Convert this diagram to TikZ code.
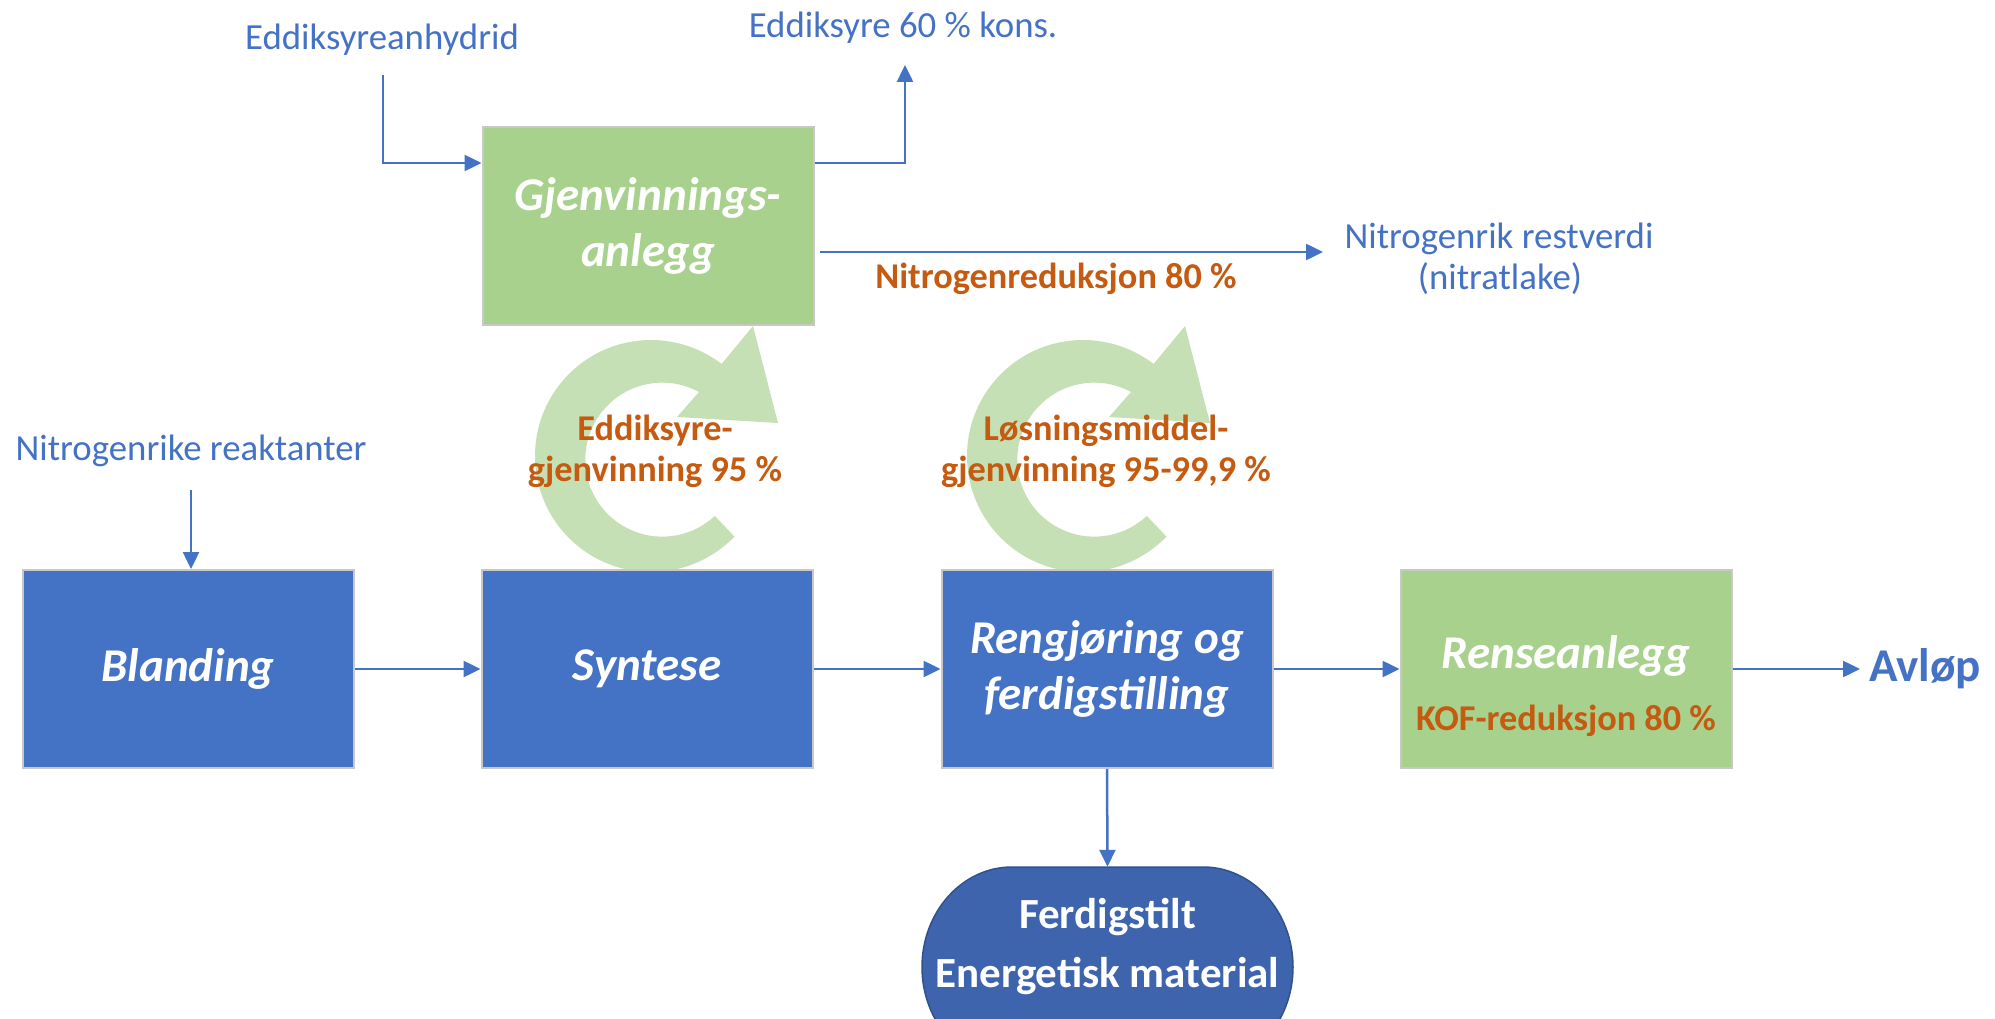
\documentclass[tikz,border=0pt]{standalone}
\usepackage{fontspec}
\setmainfont{Carlito}
\usetikzlibrary{arrows.meta}
\definecolor{boxblue}{HTML}{4472C4}
\definecolor{proddark}{HTML}{3D64AD}
\definecolor{prodline}{HTML}{2F528F}
\definecolor{boxgreen}{HTML}{A9D18E}
\definecolor{ringgreen}{HTML}{C5E0B4}
\definecolor{pctorange}{HTML}{C55A11}
\definecolor{labelblue}{HTML}{4472C4}
\definecolor{boxline}{HTML}{C8C8C8}

% circular recycling arrow, shifted horizontally by #1
\newcommand\recyclearrow[1]{%
  \fill[ringgreen, shift={(#1,0)}]
    (651,456) ++(44:116) arc[start angle=44, end angle=307.5, radius=116]
    -- (753,326) -- (778,423) -- (677,417) -- (699,392)
    arc[start angle=298.5, end angle=47, radius=77] -- cycle;}

\begin{document}
\begin{tikzpicture}[x=1pt, y=-1pt,
  box/.style={minimum width=331pt, minimum height=198pt, draw=boxline,
    line width=2pt, inner sep=0pt, align=center, text=white,
    font=\fontsize{47}{56}\selectfont\bfseries\itshape},
  bluebox/.style={box, fill=boxblue},
  greenbox/.style={box, fill=boxgreen},
  flow/.style={draw=labelblue, line width=2.5pt,
    -{Triangle[length=17pt, width=16pt]}},
  lbl/.style={text=labelblue, font=\fontsize{36.8}{44}\selectfont,
    anchor=base, inner sep=0pt},
  pct/.style={text=pctorange, font=\fontsize{36.3}{42}\selectfont\bfseries,
    anchor=base, inner sep=0pt},
  prodtxt/.style={text=white, font=\fontsize{43}{54}\selectfont\bfseries,
    anchor=base, inner sep=0pt}]

\useasboundingbox (0,0) rectangle (1995,1019);
\clip (0,0) rectangle (1995,1019);
\fill[white] (0,0) rectangle (1995,1019);

% recovery loops
\recyclearrow{0}
\recyclearrow{432}

% process boxes
\node[greenbox] (gjen)  at (648,226)  {Gjenvinnings-\\anlegg};
\node[bluebox]  (bland) at (188,669)  {Blanding};
\node[bluebox]  (synt)  at (647,669)  {Syntese};
\node[bluebox]  (reng)  at (1107,669) {Rengjøring og\\ferdigstilling};
\node[greenbox] (rens)  at (1566,669) {};
\node[text=white, font=\fontsize{47}{56}\selectfont\bfseries\itshape,
  anchor=base, inner sep=0pt] (renstxt) at (1566,668) {Renseanlegg};
\node[pct] (kof) at (1566,730) {KOF-reduksjon 80 \%};

% finished product (terminator shape)
\path[fill=proddark, draw=prodline, line width=1.5pt]
  (1012,867) -- (1203,867)
  arc[start angle=270, end angle=450, x radius=90, y radius=100]
  -- (1012,1067)
  arc[start angle=90, end angle=270, x radius=90, y radius=100] -- cycle;
\node[minimum width=371pt, minimum height=200pt, inner sep=0pt] (prod) at (1107.5,967) {};
\node[prodtxt] (prod1) at (1107.5,928) {Ferdigstilt};
\node[prodtxt] (prod2) at (1107.5,987) {Energetisk material};

% free labels
\node[lbl] (anhyd) at (382,50) {Eddiksyreanhydrid};
\node[lbl] (acid)  at (903,38) {Eddiksyre 60 \% kons.};
\node[lbl] (nres1) at (1499,248) {Nitrogenrik restverdi};
\node[lbl] (nres2) at (1500,290) {(nitratlake)};
\node[lbl] (react) at (191,460) {Nitrogenrike reaktanter};
\node[text=labelblue, font=\fontsize{47}{56}\selectfont\bfseries,
  anchor=base west, inner sep=0pt] (avlop) at (1869,681) {Avløp};

% percentages
\node[pct] (nred) at (1056,288) {Nitrogenreduksjon 80 \%};
\node[pct] (eg1) at (655,440) {Eddiksyre-};
\node[pct] (eg2) at (655,481) {gjenvinning 95 \%};
\node[pct] (lg1) at (1106,440) {Løsningsmiddel-};
\node[pct] (lg2) at (1106,481) {gjenvinning 95-99,9 \%};

% connector end points
\coordinate (a1) at (383,75);
\coordinate (a2) at (383,163);
\coordinate (e1) at (905,163);
\coordinate (e2) at (905,65);
\coordinate (n1) at (820,252);
\coordinate (n2) at (1323,252);
\coordinate (r1) at (191,490);
\coordinate (av) at (1860,669);

% connectors
\draw[flow] (a1) -- (a2) -- (a2 -| gjen.west);
\draw[flow] (e1 -| gjen.east) -- (e1) -- (e2);
\draw[flow] (n1) -- (n2);
\draw[flow] (r1) -- (r1 |- bland.north);
\draw[flow] (bland.east) -- (synt.west);
\draw[flow] (synt.east) -- (reng.west);
\draw[flow] (reng.east) -- (rens.west);
\draw[flow] (rens.east) -- (av);
\draw[flow] (reng.south) -- (prod.north);
\end{tikzpicture}
\end{document}
